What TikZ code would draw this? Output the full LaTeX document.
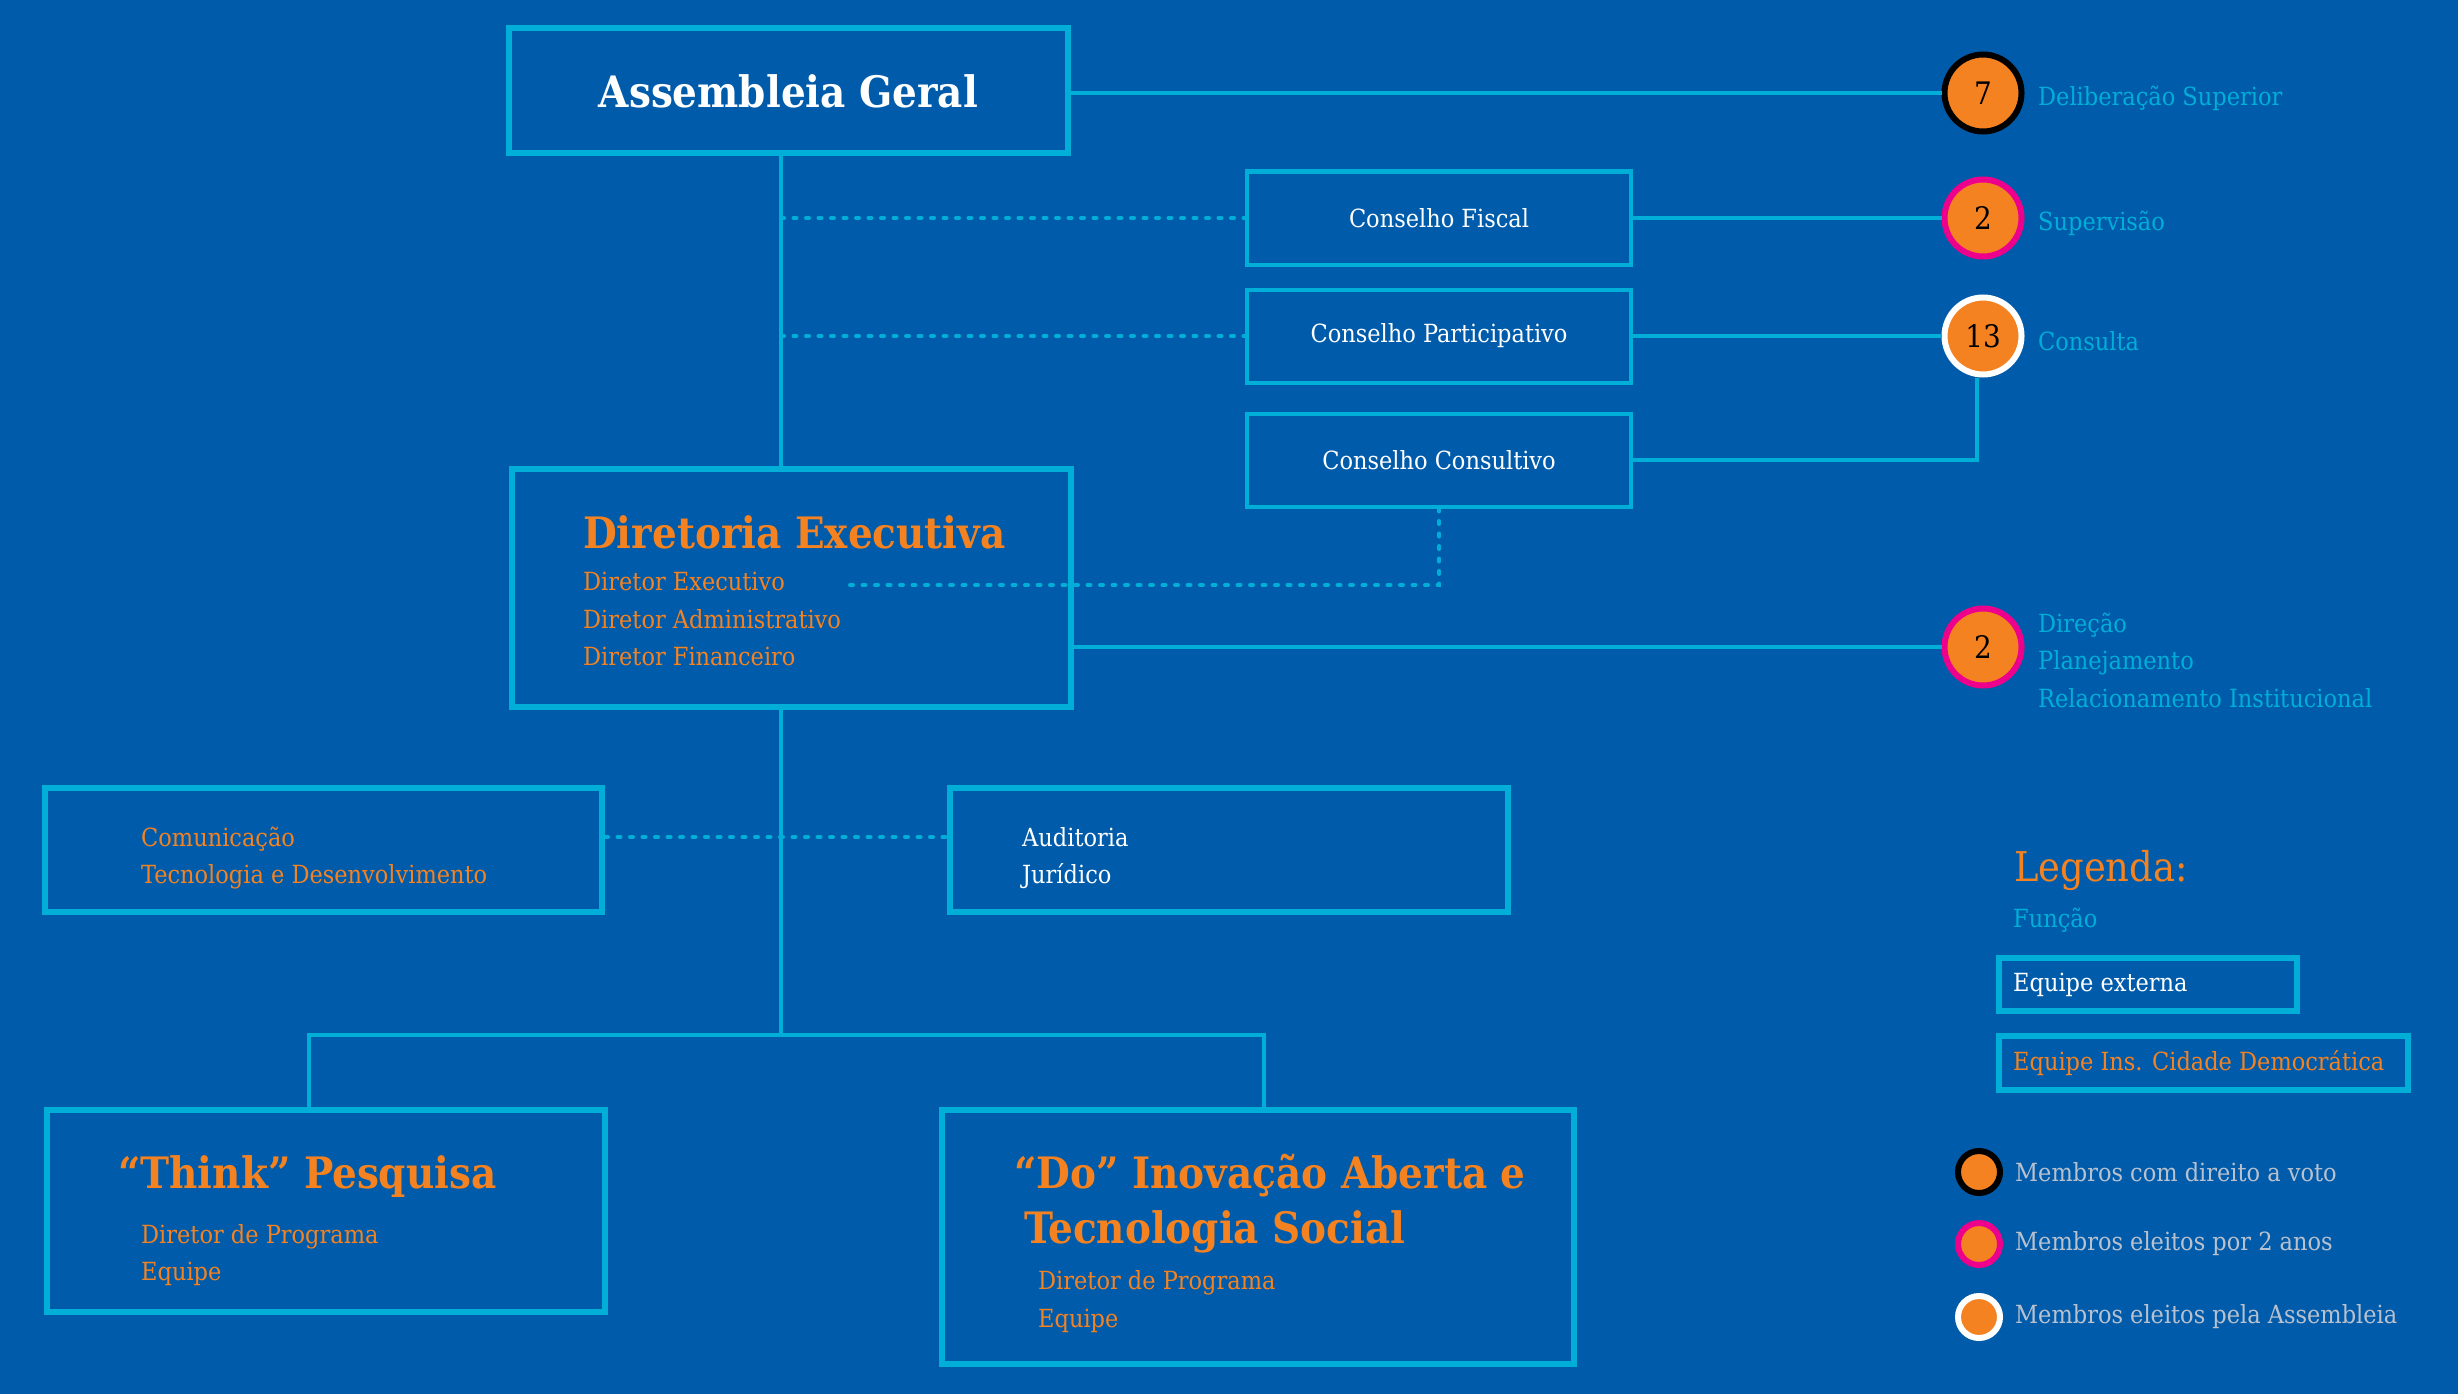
\documentclass[tikz,border=0pt]{standalone}
\usepackage{fontspec}
\setmainfont{DejaVu Serif Condensed}
\usetikzlibrary{positioning}

\definecolor{bgblue}{RGB}{0,92,170}
\definecolor{lineblue}{RGB}{0,174,216}
\definecolor{ciorange}{RGB}{245,130,32}
\definecolor{cipink}{RGB}{236,0,140}
\definecolor{legendgrey}{RGB}{186,193,206}

\newcommand{\headfont}{\bfseries\fontsize{43.3}{54}\selectfont}
\newcommand{\bodyfont}{\fontsize{25}{37.5}\selectfont}

\begin{document}
\begin{tikzpicture}[
  x=1pt, y=-1pt,
  link/.style={draw=lineblue, line width=4},
  dotlink/.style={draw=lineblue, line width=4, line cap=round, dash pattern=on 3pt off 9.5pt},
  unit/.style={draw=lineblue, line width=6, inner sep=0},
  council/.style={draw=lineblue, line width=4, minimum width=384, minimum height=93, text=white, font=\bodyfont},
  boxtext/.style={anchor=west, align=left, inner sep=0, font=\bodyfont},
  seat/.style={circle, fill=ciorange, line width=6, minimum size=77, inner sep=0, font=\fontsize{31}{36}\selectfont},
  seatlabel/.style={align=left, inner sep=0, text=lineblue, font=\bodyfont},
  keydot/.style={circle, fill=ciorange, line width=6, minimum size=42, inner sep=0},
  keylabel/.style={inner sep=0, text=legendgrey, font=\bodyfont},
]
\fill[bgblue] (0,0) rectangle (2458,1394);
\useasboundingbox (0,0) rectangle (2458,1394);

% top level
\node[unit, minimum width=559, minimum height=125, text=white, font=\headfont] (ag) at (788.5,91) {Assembleia Geral};
\node[council] (fiscal) at (1439,218) {Conselho Fiscal};
\node[council] (partic) at (1439,336) {Conselho Participativo};
\node[council] (consult) at (1439,460) {Conselho Consultivo};

% executive board
\node[unit, minimum width=559, minimum height=238] (de) at (791.5,588) {};
\node[boxtext, text=ciorange, yshift=-3] (deText) at ([xshift=74]de.west) {{\headfont Diretoria Executiva}\\[4.5] Diretor Executivo\\ Diretor Administrativo\\ Diretor Financeiro};

\node[unit, minimum width=557, minimum height=124] (comm) at (323.5,850) {};
\node[boxtext, text=ciorange, yshift=-8] (commText) at ([xshift=99]comm.west) {Comunicação\\ Tecnologia e Desenvolvimento};
\node[unit, minimum width=558, minimum height=124] (audit) at (1229,850) {};
\node[boxtext, text=white, yshift=-8] (auditText) at ([xshift=75]audit.west) {Auditoria\\ Jurídico};

% programmes
\node[unit, minimum width=558, minimum height=202] (think) at (326,1211) {};
\node[boxtext, text=ciorange, yshift=-9.5] (thinkText) at ([xshift=74]think.west) {{\headfont “Think” Pesquisa}\\[17.5] \hspace*{23pt}Diretor de Programa\\ \hspace*{23pt}Equipe};
\node[unit, minimum width=632, minimum height=254] (doprog) at (1258,1237) {};
\node[boxtext, text=ciorange, yshift=-6.25] (doText) at ([xshift=75]doprog.west) {{\headfont “Do” Inovação Aberta e}\\[12.6] {\headfont\hspace*{10pt}Tecnologia Social}\\[9] \hspace*{24pt}Diretor de Programa\\ \hspace*{24pt}Equipe};

% seats
\node[seat, draw=black] (c7) at (1983,93) {7};
\node[seat, draw=cipink] (c2a) at (1983,218) {2};
\node[seat, draw=white] (c13) at (1983,336) {13};
\node[seat, draw=cipink] (c2b) at (1983,647) {2};
\node[seatlabel, right=13.5pt of c7, yshift=-5] (l7) {Deliberação Superior};
\node[seatlabel, right=13.5pt of c2a, yshift=-5] (l2a) {Supervisão};
\node[seatlabel, right=13.5pt of c13, yshift=-5] (l13) {Consulta};
\node[seatlabel, right=13.5pt of c2b, yshift=-13] (l2b) {Direção\\ Planejamento\\ Relacionamento Institucional};

% connectors
\coordinate (spine) at (781,0);
\coordinate (dexec) at (846,585);
\coordinate (barL) at (309,1035);
\coordinate (barR) at (1264,1035);
\draw[link] (ag.east |- c7) -- (c7);
\draw[link] (fiscal.east) -- (c2a);
\draw[link] (partic.east) -- (c13);
\draw[link] (consult.east) -| ([xshift=-6]c13.south);
\draw[link] (de.east |- c2b) -- (c2b);
\draw[link] (ag.south -| spine) -- (de.north -| spine);
\draw[dotlink] (spine |- fiscal.west) -- (fiscal.west);
\draw[dotlink] (spine |- partic.west) -- (partic.west);
\draw[dotlink] (consult.south) |- (dexec);
\draw[link] (de.south -| spine) -- (spine |- barL);
\draw[link] (think.north -| barL) |- (barR) -- (doprog.north -| barR);
\draw[dotlink] ([yshift=13]comm.east) -- ([yshift=13]audit.west);

% legend
\node[anchor=base west, inner sep=0, text=ciorange, font=\fontsize{41}{48}\selectfont] (legTitle) at (2014,881) {Legenda:};
\node[anchor=base west, inner sep=0, text=lineblue, font=\bodyfont] (legFn) at (2013,927) {Função};
\node[unit, minimum width=298, minimum height=53] (extkey) at (2148,984.5) {};
\node[boxtext, text=white] (extText) at ([xshift=17]extkey.west) {Equipe externa};
\node[unit, minimum width=409, minimum height=54] (inskey) at (2203.5,1063) {};
\node[boxtext, text=ciorange] (insText) at ([xshift=17]inskey.west) {Equipe Ins. Cidade Democrática};
\node[keydot, draw=black] (vote) at (1979,1172) {};
\node[keydot, draw=cipink] (twoyr) at (1979,1244) {};
\node[keydot, draw=white] (elected) at (1979,1317) {};
\node[keylabel, right=12pt of vote] (voteText) {Membros com direito a voto};
\node[keylabel, right=12pt of twoyr] (twoyrText) {Membros eleitos por 2 anos};
\node[keylabel, right=12pt of elected] (electedText) {Membros eleitos pela Assembleia};
\end{tikzpicture}
\end{document}
